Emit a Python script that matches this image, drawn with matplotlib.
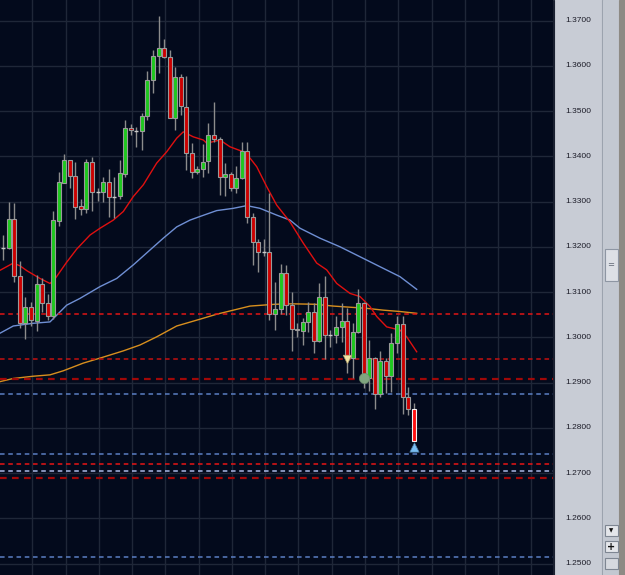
import matplotlib
matplotlib.use("Agg")
import matplotlib.pyplot as plt
from matplotlib.patches import Rectangle

# ---------------- data ----------------
opens = [1.3197, 1.3198, 1.3261, 1.3135, 1.3032, 1.3068, 1.3037, 1.3118, 1.3075, 1.3046,
         1.3258, 1.3342, 1.3391, 1.3356, 1.3290, 1.3283, 1.3387, 1.3320, 1.3322, 1.3343,
         1.3311, 1.3312, 1.3361, 1.3463, 1.3457, 1.3457, 1.3488, 1.3569, 1.3622, 1.3640,
         1.3620, 1.3485, 1.3575, 1.3510, 1.3408, 1.3365, 1.3373, 1.3390, 1.3446, 1.3438,
         1.3355, 1.3361, 1.3329, 1.3351, 1.3412, 1.3265, 1.3211, 1.3189, 1.3188, 1.3051,
         1.3062, 1.3141, 1.3071, 1.3018, 1.3014, 1.3033, 1.3057, 1.2992, 1.3090, 1.3004,
         1.3004, 1.3023, 1.3036, 1.2954, 1.3011, 1.3075, 1.2909, 1.2954, 1.2874, 1.2948,
         1.2915, 1.2987, 1.3029, 1.2867, 1.2842]
highs = [1.3226, 1.3298, 1.3296, 1.3169, 1.3090, 1.3079, 1.3138, 1.3132, 1.3096, 1.3280,
         1.3365, 1.3404, 1.3392, 1.3388, 1.3305, 1.3393, 1.3398, 1.3329, 1.3355, 1.3371,
         1.3354, 1.3392, 1.3480, 1.3471, 1.3465, 1.3496, 1.3589, 1.3635, 1.3710, 1.3659,
         1.3635, 1.3597, 1.3582, 1.3577, 1.3429, 1.3379, 1.3427, 1.3474, 1.3519, 1.3443,
         1.3385, 1.3366, 1.3379, 1.3432, 1.3431, 1.3275, 1.3217, 1.3217, 1.3318, 1.3122,
         1.3161, 1.3159, 1.3101, 1.3032, 1.3042, 1.3077, 1.3075, 1.3119, 1.3135, 1.3016,
         1.3046, 1.3075, 1.3064, 1.3031, 1.3107, 1.3079, 1.2994, 1.2956, 1.2970, 1.2954,
         1.3010, 1.3047, 1.3047, 1.2890, 1.2854]
lows = [1.3171, 1.3195, 1.3123, 1.3020, 1.2996, 1.3025, 1.3014, 1.3056, 1.3038, 1.3041,
        1.3247, 1.3341, 1.3329, 1.3261, 1.3270, 1.3274, 1.3280, 1.3302, 1.3298, 1.3265,
        1.3263, 1.3305, 1.3355, 1.3447, 1.3421, 1.3414, 1.3480, 1.3539, 1.3585, 1.3617,
        1.3484, 1.3458, 1.3491, 1.3370, 1.3353, 1.3361, 1.3355, 1.3362, 1.3432, 1.3314,
        1.3312, 1.3323, 1.3318, 1.3350, 1.3253, 1.3160, 1.3145, 1.3180, 1.3038, 1.3016,
        1.3051, 1.3049, 1.2970, 1.3001, 1.2982, 1.3011, 1.2965, 1.2990, 1.2951, 1.2978,
        1.2988, 1.2990, 1.2922, 1.2909, 1.3009, 1.2887, 1.2882, 1.2841, 1.2867, 1.2878,
        1.2880, 1.2966, 1.2830, 1.2828, 1.2770]
closes = [1.3197, 1.3261, 1.3135, 1.3032, 1.3068, 1.3038, 1.3118, 1.3076, 1.3047, 1.3259,
          1.3343, 1.3391, 1.3356, 1.3289, 1.3283, 1.3387, 1.3320, 1.3320, 1.3343, 1.3311,
          1.3311, 1.3362, 1.3463, 1.3458, 1.3457, 1.3488, 1.3569, 1.3622, 1.3640, 1.3620,
          1.3485, 1.3575, 1.3511, 1.3408, 1.3365, 1.3373, 1.3388, 1.3446, 1.3438, 1.3355,
          1.3361, 1.3329, 1.3351, 1.3412, 1.3265, 1.3211, 1.3189, 1.3189, 1.3051, 1.3062,
          1.3141, 1.3071, 1.3018, 1.3016, 1.3034, 1.3057, 1.2992, 1.3090, 1.3004, 1.3004,
          1.3023, 1.3036, 1.2956, 1.3011, 1.3075, 1.2917, 1.2954, 1.2874, 1.2948, 1.2915,
          1.2987, 1.3029, 1.2867, 1.2842, 1.2770]

# moving averages (bar index, price)
ma_red_x = [-0.6, 1.8, 3.0, 4.27, 6.62, 8.42, 9.32, 11.43, 13.24, 15.64, 17.44, 19.84, 21.64,
            23.44, 25.25, 27.66, 29.47, 31.27, 32.46, 34.26, 36.07, 36.68, 39.08, 40.88, 43.28,
            44.49, 45.70, 47.50, 49.31, 51.70, 54.10, 56.52, 58.32, 60.13, 62.52, 64.33, 66.13,
            67.34, 69.14, 71.54, 72.75, 74.55]
ma_red_y = [1.3148, 1.3164, 1.3158, 1.3147, 1.3130, 1.3119, 1.3129, 1.3166, 1.3195, 1.3226,
            1.3241, 1.3259, 1.3278, 1.3311, 1.3337, 1.3385, 1.3410, 1.3440, 1.3454, 1.3443,
            1.3436, 1.3429, 1.3436, 1.3421, 1.3410, 1.3396, 1.3377, 1.3333, 1.3292, 1.3255,
            1.3208, 1.3164, 1.3149, 1.3119, 1.3097, 1.3090, 1.3068, 1.3046, 1.3023, 1.3016,
            1.3001, 1.2968]
ma_blue_x = [-0.6, 1.8, 5.41, 8.42, 11.43, 13.83, 17.44, 20.45, 23.44, 26.46, 28.85, 31.27,
             33.67, 35.47, 38.48, 41.48, 43.90, 46.29, 49.31, 51.70, 53.51, 57.11, 60.72,
             64.33, 67.93, 71.54, 74.55]
ma_blue_y = [1.3009, 1.3025, 1.3031, 1.3034, 1.3071, 1.3086, 1.3112, 1.3130, 1.3160, 1.3193,
             1.3219, 1.3244, 1.3259, 1.3267, 1.3280, 1.3285, 1.3291, 1.3285, 1.3270, 1.3259,
             1.3241, 1.3219, 1.3200, 1.3178, 1.3156, 1.3134, 1.3106]
ma_orange_x = [-0.6, 1.8, 5.41, 8.42, 10.82, 14.43, 17.44, 21.64, 24.65, 27.66, 31.27, 35.47,
               38.48, 41.48, 44.49, 49.0, 52.01, 56.21, 59.51, 63.12, 65.54, 68.53, 71.54, 74.55]
ma_orange_y = [1.2902, 1.2909, 1.2914, 1.2917, 1.2926, 1.2943, 1.2954, 1.2970, 1.2983, 1.3001,
               1.3025, 1.3040, 1.3051, 1.3060, 1.3069, 1.3073, 1.3074, 1.3073, 1.3069, 1.3066,
               1.3064, 1.3060, 1.3057, 1.3053]

# horizontal dashed levels
level_prices = [1.3051, 1.2952, 1.29085, 1.2874, 1.2742, 1.2720, 1.2704, 1.2690, 1.2514]
level_colors = ["#e01515", "#c41010", "#a00808", "#5b7fc4", "#5b7fc4", "#e81515",
                "#a9b8e6", "#a00808", "#5b7fc4"]
level_widths = [1.1, 1.1, 1.6, 1.1, 1.1, 1.1, 1.1, 1.6, 1.1]

# signal markers
sig_down_x, sig_down_y = [62], [1.2951]
sig_dot_x, sig_dot_y = [65.1], [1.2909]
sig_up_x, sig_up_y = [74], [1.2757]

tick_values = [1.37, 1.36, 1.35, 1.34, 1.33, 1.32, 1.31, 1.30, 1.29, 1.28, 1.27, 1.26, 1.25]
tick_labels = ["1.3700", "1.3600", "1.3500", "1.3400", "1.3300", "1.3200", "1.3100",
               "1.3000", "1.2900", "1.2800", "1.2700", "1.2600", "1.2500"]

# ---------------- figure ----------------
W, H = 625, 575
fig = plt.figure(figsize=(W / 100, H / 100), dpi=100)
fig.patch.set_facecolor("#c8ccd5")

def fx(px):
    return px / W

def fy(py):
    return 1 - py / H

BG = "#030a1c"
ax = fig.add_axes([0, 0, fx(553), 1])
ax.set_facecolor(BG)
ax.set_xlim(-0.595, 99.13)
ax.set_ylim(1.24747, 1.37454)
for s in ax.spines.values():
    s.set_visible(False)
ax.set_xticks([])
ax.set_yticks([])

# grid
grid_c = "#1f2738"
for v in tick_values:
    ax.axhline(v, color=grid_c, lw=1.0, zorder=0)
gx = 5.22
while gx < 99.2:
    ax.axvline(gx, color=grid_c, lw=1.0, zorder=0)
    gx += 6

# moving averages
ax.plot(ma_orange_x, ma_orange_y, color="#d88f1e", lw=1.0, zorder=2)
ax.plot(ma_blue_x, ma_blue_y, color="#6f8fd4", lw=1.0, zorder=2)
ax.plot(ma_red_x, ma_red_y, color="#e01010", lw=1.0, zorder=4)

# levels
for p, c, w in zip(level_prices, level_colors, level_widths):
    ax.axhline(p, color=c, lw=w, linestyle=(0, (3.0, 2.4)), zorder=3)

# candles
n = len(opens)
idx = list(range(n))
body_w = 0.72
ax.vlines(idx, lows, highs, color="#8c8c8c", lw=1.0, zorder=5)
for i in idx:
    o, c = opens[i], closes[i]
    last = (i == n - 1)
    if abs(c - o) < 0.00005:
        ax.hlines(o, i - body_w / 2, i + body_w / 2, color="#c8c8c8", lw=1.0, zorder=6)
        continue
    if c > o:
        fc = "#1ec81e"
    else:
        fc = "#ff1010" if last else "#cc0000"
    ec = "#f2f2f2" if last else "#9a9a9a"
    ax.bar(i, abs(c - o), bottom=min(o, c), width=body_w, color=fc,
           edgecolor=ec, linewidth=0.8, zorder=6)

# signals
ax.scatter(sig_down_x, sig_down_y, marker="v", s=38, color="#f3e6a6", edgecolors="#b0a070",
           linewidths=0.5, zorder=8)
ax.scatter(sig_dot_x, sig_dot_y, marker="o", s=55, color="#7fa57f", edgecolors="#6a8a6a",
           linewidths=0.5, zorder=8)
ax.scatter(sig_up_x, sig_up_y, marker="^", s=45, color="#78bcf0", edgecolors="#4a7aa0",
           linewidths=0.5, zorder=8)

# ---------------- price scale panel ----------------
axp = fig.add_axes([fx(553), 0, fx(603) - fx(553), 1])
axp.set_facecolor("#c8ccd5")
axp.set_xlim(0, 1)
axp.set_ylim(1.24747, 1.37454)
axp.set_xticks([])
axp.set_yticks([])
for s in axp.spines.values():
    s.set_visible(False)
for v, t in zip(tick_values, tick_labels):
    axp.text(0.5, v, t, ha="center", va="center", fontsize=6,
             family="Liberation Sans", color="#1c1c28")

# scrollbar
def rect(x0, y0, x1, y1, fc, ec=None, lw=0.8):
    r = Rectangle((fx(x0), fy(y1)), fx(x1) - fx(x0), fy(y0) - fy(y1),
                  transform=fig.transFigure, facecolor=fc,
                  edgecolor=ec if ec else fc, linewidth=lw)
    fig.add_artist(r)

rect(553, 0, 554.2, 575, "#1a2030")
rect(602, 0, 603.2, 575, "#9aa1ad")
rect(603.2, 0, 619, 575, "#c3c8d1")
rect(619, 0, 625, 575, "#8d8a84")
rect(604.5, 249, 617.5, 281, "#dde0e6", "#8e96a3")
fig.text(fx(611), fy(265), "=", ha="center", va="center", fontsize=6, color="#606876")
rect(604.5, 525, 617.5, 536, "#e4e6ea", "#7e8692")
fig.text(fx(611), fy(530.5), "\u25bc", ha="center", va="center", fontsize=4, color="#101010")
rect(604.5, 541, 617.5, 552, "#e4e6ea", "#7e8692")
fig.text(fx(611), fy(546.5), "+", ha="center", va="center", fontsize=7, color="#101010",
         fontweight="bold")
rect(604.5, 558, 617.5, 569, "#d6d9df", "#7e8692")

fig.savefig("out.png", dpi=100, facecolor=fig.get_facecolor())
